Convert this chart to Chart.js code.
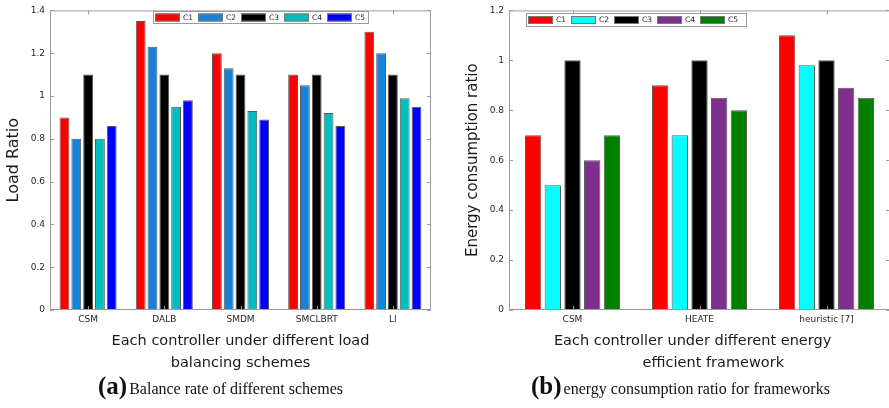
<!DOCTYPE html>
<html lang="en">
<head>
<meta charset="UTF-8">
<title>Load ratio and energy consumption</title>
<script src="https://cdn.jsdelivr.net/npm/chart.js@4.4.0/dist/chart.umd.min.js"></script>
<style>
    body {
        margin: 0;
        background: #fff;
        width: 889px;
        height: 408px;
        position: relative;
        overflow: hidden;
    }

    .panel {
        position: absolute;
        top: 0;
        height: 375px;
    }

    #panelA { left: 0; width: 440px; }
    #panelB { left: 440px; width: 450px; }

    .caption {
        position: absolute;
        top: 373px;
        font-family: "Liberation Serif", "Times New Roman", serif;
        font-size: 16px;
        line-height: 26px;
        white-space: nowrap;
        color: #111;
    }

    .caption b {
        font-size: 25px;
        margin-right: 2px;
    }
</style>
</head>
<body>
<div class="panel" id="panelA"><canvas id="chartA"></canvas></div>
<div class="panel" id="panelB"><canvas id="chartB"></canvas></div>
<div class="caption" style="left:98px"><b>(a)</b>Balance rate of different schemes</div>
<div class="caption" style="left:531px"><b>(b)</b>energy consumption ratio for frameworks</div>

<script>
    // series names shared by both panels
    const seriesNames = ['C1', 'C2', 'C3', 'C4', 'C5'];

    // (a) load ratio per scheme
    const schemes = ['CSM', 'DALB', 'SMDM', 'SMCLBRT', 'LI'];
    const loadC1 = [0.90, 1.35, 1.20, 1.10, 1.30];
    const loadC2 = [0.80, 1.23, 1.13, 1.05, 1.20];
    const loadC3 = [1.10, 1.10, 1.10, 1.10, 1.10];
    const loadC4 = [0.80, 0.95, 0.93, 0.92, 0.99];
    const loadC5 = [0.86, 0.98, 0.89, 0.86, 0.95];
    const loadTicks = [0, 0.2, 0.4, 0.6, 0.8, 1, 1.2, 1.4];

    // (b) energy consumption ratio per framework
    const frameworks = ['CSM', 'HEATE', 'heuristic [7]'];
    const energyC1 = [0.70, 0.90, 1.10];
    const energyC2 = [0.50, 0.70, 0.98];
    const energyC3 = [1.00, 1.00, 1.00];
    const energyC4 = [0.60, 0.85, 0.89];
    const energyC5 = [0.70, 0.80, 0.85];
    const energyTicks = [0, 0.2, 0.4, 0.6, 0.8, 1, 1.2];

    const colorsA = ['#ff0000', '#1782d6', '#000000', '#00bebe', '#0000ff'];
    const colorsB = ['#ff0000', '#00ffff', '#000000', '#7e2f8e', '#008000'];

    const frameColor = '#9c9c9c';
    const textColor = '#262626';

    // box round the plot, inward ticks and the boxed legend (MATLAB look)
    const matlabBox = {
        id: 'matlabBox',
        afterDatasetsDraw(chart, args, opts) {
            const { ctx, chartArea: a, scales: { x, y } } = chart;
            ctx.save();
            ctx.strokeStyle = frameColor;
            ctx.lineWidth = 1;
            ctx.strokeRect(a.left + 0.5, a.top + 0.5, a.right - a.left - 1, a.bottom - a.top - 1);

            ctx.beginPath();
            y.ticks.forEach(t => {
                const py = Math.round(y.getPixelForValue(t.value)) + 0.5;
                ctx.moveTo(a.left, py); ctx.lineTo(a.left + 4, py);
                ctx.moveTo(a.right, py); ctx.lineTo(a.right - 4, py);
            });
            x.ticks.forEach((t, i) => {
                const px = Math.round(x.getPixelForTick(i)) + 0.5;
                ctx.moveTo(px, a.top); ctx.lineTo(px, a.top + 4);
                ctx.moveTo(px, a.bottom); ctx.lineTo(px, a.bottom - 4);
            });
            ctx.stroke();

            // legend
            const lx = a.left + opts.left;
            const ly = opts.top;
            ctx.fillStyle = '#fff';
            ctx.fillRect(lx, ly, opts.width, opts.height);
            ctx.strokeStyle = frameColor;
            ctx.strokeRect(lx + 0.5, ly + 0.5, opts.width, opts.height);
            ctx.font = '7.5px "DejaVu Sans"';
            ctx.textBaseline = 'middle';
            chart.data.datasets.forEach((ds, i) => {
                const sx = lx + 2 + i * opts.pitch;
                const sy = ly + (opts.height - 8) / 2 + 0.5;
                ctx.fillStyle = ds.backgroundColor;
                ctx.fillRect(sx, sy, 25, 8);
                ctx.strokeStyle = '#777';
                ctx.strokeRect(sx + 0.5, sy + 0.5, 24, 7);
                ctx.fillStyle = textColor;
                ctx.fillText(ds.label, sx + 28, ly + opts.height / 2 + 1);
            });
            ctx.restore();
        }
    };

    function makeDatasets(seriesValues, colors) {
        return seriesValues.map((values, i) => ({
            label: seriesNames[i],
            data: values,
            backgroundColor: colors[i],
            borderColor: '#5a5a5a',
            borderWidth: 1,
            categoryPercentage: 0.775,
            barPercentage: 0.83
        }));
    }

    function makeChart(canvasId, labels, datasets, ticks, cfg) {
        return new Chart(document.getElementById(canvasId), {
            type: 'bar',
            data: { labels: labels, datasets: datasets },
            plugins: [matlabBox],
            options: {
                responsive: true,
                maintainAspectRatio: false,
                animation: false,
                layout: { padding: { top: 10, right: cfg.padRight, left: 0, bottom: 0 } },
                plugins: {
                    legend: { display: false },
                    tooltip: { enabled: false },
                    matlabBox: cfg.legend
                },
                scales: {
                    x: {
                        grid: { display: false, drawTicks: false },
                        border: { display: false },
                        ticks: { color: textColor, font: { family: 'DejaVu Sans', size: 9 }, padding: 4, maxRotation: 0 },
                        title: {
                            display: true,
                            text: cfg.xTitle,
                            color: '#1a1a1a',
                            font: { family: 'DejaVu Sans', size: 14.5, lineHeight: 1.52 },
                            padding: { top: 0, bottom: 1 }
                        },
                        afterFit: s => { s.height = 65; }
                    },
                    y: {
                        min: 0,
                        max: ticks[ticks.length - 1],
                        grid: { display: false, drawTicks: false },
                        border: { display: false },
                        afterBuildTicks: s => { s.ticks = ticks.map(v => ({ value: v })); },
                        ticks: {
                            color: textColor,
                            font: { family: 'DejaVu Sans', size: 9 },
                            padding: 5,
                            callback: v => String(Number(v.toFixed(1)))
                        },
                        title: {
                            display: true,
                            text: cfg.yTitle,
                            color: '#1a1a1a',
                            font: { family: 'DejaVu Sans', size: cfg.yTitleSize, lineHeight: 1.2 },
                            padding: { top: cfg.yTitlePad, bottom: 0 }
                        },
                        afterFit: s => { s.width = cfg.yWidth; }
                    }
                }
            }
        });
    }

    makeChart('chartA', schemes,
        makeDatasets([loadC1, loadC2, loadC3, loadC4, loadC5], colorsA),
        loadTicks, {
            padRight: 9,
            yWidth: 50,
            yTitle: 'Load Ratio',
            yTitleSize: 16,
            yTitlePad: 4,
            xTitle: ['Each controller under different load', 'balancing schemes'],
            legend: { left: 103, top: 11, width: 215, height: 12, pitch: 43 }
        });

    makeChart('chartB', frameworks,
        makeDatasets([energyC1, energyC2, energyC3, energyC4, energyC5], colorsB),
        energyTicks, {
            padRight: 0,
            yWidth: 69,
            yTitle: 'Energy consumption ratio',
            yTitleSize: 15,
            yTitlePad: 24,
            xTitle: ['Each controller under different energy   ', '      efficient framework'],
            legend: { left: 17, top: 13, width: 220, height: 13, pitch: 43 }
        });
</script>
</body>
</html>
